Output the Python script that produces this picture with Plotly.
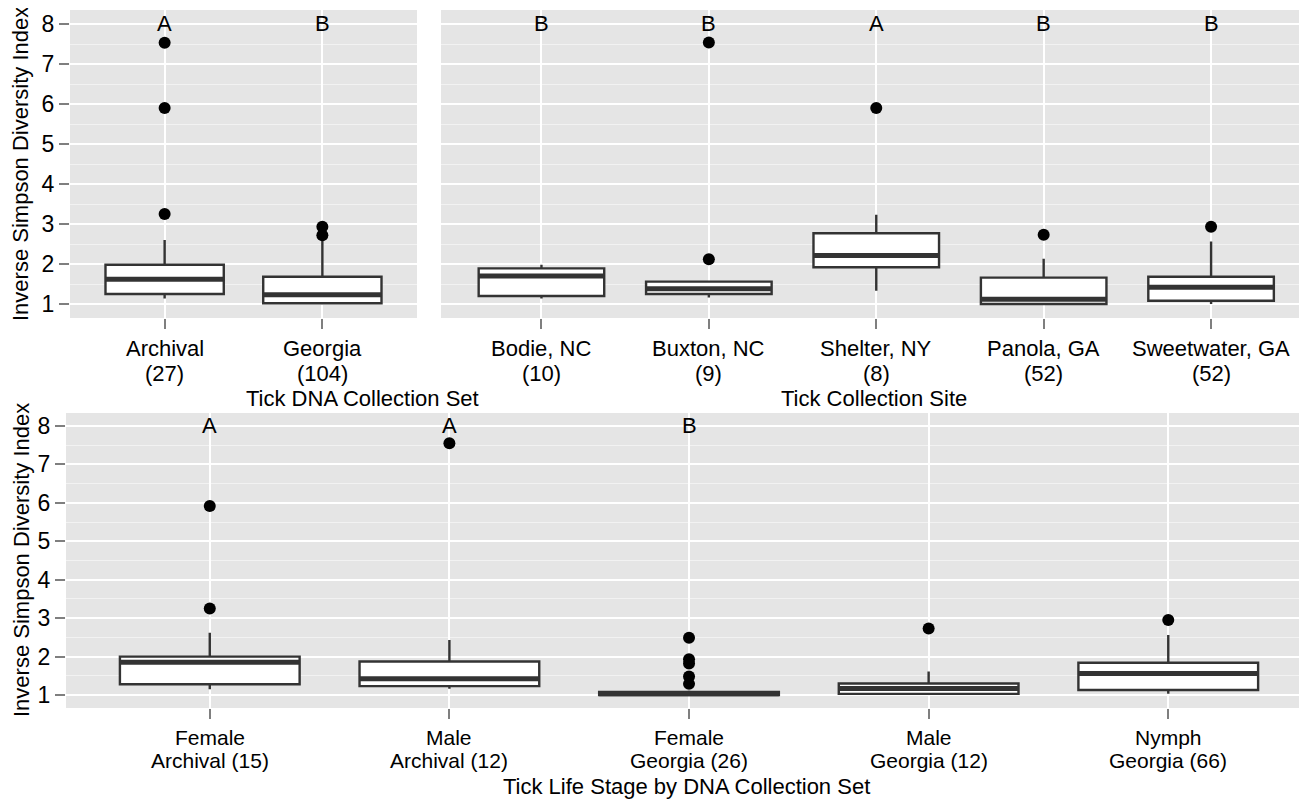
import plotly.graph_objects as go

# ---------------- data ----------------
set_labels = ["Archival<br>(27)", "Georgia<br>(104)"]
set_q1 = [1.25, 1.02]
set_med = [1.62, 1.23]
set_q3 = [1.98, 1.68]
set_lo = [1.14, 1.0]
set_hi = [2.6, 2.62]
set_out_x = [0, 0, 0, 1, 1]
set_out_y = [7.53, 5.90, 3.25, 2.93, 2.72]
set_letters = ["A", "B"]

site_labels = ["Bodie, NC<br>(10)", "Buxton, NC<br>(9)", "Shelter, NY<br>(8)",
               "Panola, GA<br>(52)", "Sweetwater, GA<br>(52)"]
site_q1 = [1.20, 1.25, 1.92, 1.00, 1.08]
site_med = [1.70, 1.38, 2.21, 1.12, 1.42]
site_q3 = [1.89, 1.56, 2.77, 1.66, 1.68]
site_lo = [1.14, 1.16, 1.33, 0.99, 1.00]
site_hi = [1.98, 1.58, 3.23, 2.13, 2.56]
site_out_x = [1, 1, 2, 3, 4]
site_out_y = [7.54, 2.12, 5.90, 2.73, 2.93]
site_letters = ["B", "B", "A", "B", "B"]

stage_labels = ["Female<br>Archival (15)", "Male<br>Archival (12)", "Female<br>Georgia (26)",
                "Male<br>Georgia (12)", "Nymph<br>Georgia (66)"]
stage_q1 = [1.28, 1.23, 1.00, 1.03, 1.13]
stage_med = [1.85, 1.42, 1.03, 1.17, 1.56]
stage_q3 = [2.00, 1.87, 1.08, 1.30, 1.84]
stage_lo = [1.15, 1.16, 1.00, 1.00, 1.03]
stage_hi = [2.62, 2.43, 1.12, 1.61, 2.56]
stage_out_x = [0, 0, 1, 2, 2, 2, 2, 2, 3, 4]
stage_out_y = [5.92, 3.25, 7.55, 2.49, 1.93, 1.82, 1.48, 1.29, 2.73, 2.95]
stage_letters = ["A", "A", "B", "", ""]

y_ticks = [1, 2, 3, 4, 5, 6, 7, 8]
y_title = "Inverse Simpson Diversity Index"
x_titles = ["Tick DNA Collection Set", "Tick Collection Site", "Tick Life Stage by DNA Collection Set"]

# ---------------- figure ----------------
# the page body has an 8px default margin; size the figure so it ends at the window edge
OFF = 8
W, H = 1307 - OFF, 799 - OFF
FONT = "Liberation Sans, Arial, sans-serif"
LINE = "#333333"
BOXW = 0.75


def px(xpix):
    return (xpix - OFF) / W


def py(ypix):
    return 1 - (ypix - OFF) / H


fig = go.Figure()

# (xaxis, yaxis, labels, ..., tick font size, label line centres in px)
panels = [
    ("x", "y", set_labels, set_q1, set_med, set_q3, set_lo, set_hi, set_out_x, set_out_y, set_letters, 22, (348, 373)),
    ("x2", "y2", site_labels, site_q1, site_med, site_q3, site_lo, site_hi, site_out_x, site_out_y, site_letters, 22, (348, 373)),
    ("x3", "y3", stage_labels, stage_q1, stage_med, stage_q3, stage_lo, stage_hi, stage_out_x, stage_out_y, stage_letters, 21, (737, 760)),
]

annotations = []
for xa, ya, labels, q1, med, q3, lo, hi, ox, oy, letters, fs, lines_y in panels:
    idx = list(range(len(labels)))
    fig.add_trace(go.Box(
        x=idx, q1=q1, median=med, q3=q3, lowerfence=lo, upperfence=hi,
        width=BOXW, whiskerwidth=0, boxpoints=False,
        fillcolor="white", line=dict(color=LINE, width=2.4),
        xaxis=xa, yaxis=ya, showlegend=False, hoverinfo="skip"))
    mx, my = [], []
    for i, m in zip(idx, med):
        mx += [i - BOXW / 2, i + BOXW / 2, None]
        my += [m, m, None]
    fig.add_trace(go.Scatter(x=mx, y=my, mode="lines",
                             line=dict(color=LINE, width=5),
                             xaxis=xa, yaxis=ya, showlegend=False, hoverinfo="skip"))
    fig.add_trace(go.Scatter(x=ox, y=oy, mode="markers",
                             marker=dict(color="black", size=12),
                             xaxis=xa, yaxis=ya, showlegend=False, hoverinfo="skip"))
    for i, t in zip(idx, letters):
        if t:
            annotations.append(dict(x=i, y=8, xref=xa, yref=ya, text=t, showarrow=False,
                                    font=dict(family=FONT, size=22, color="black"),
                                    yanchor="middle", xanchor="center"))
    # category labels (two lines, tighter spacing than plotly's default line height)
    for i, lab in zip(idx, labels):
        for part, ly in zip(lab.split("<br>"), lines_y):
            annotations.append(dict(x=i, y=py(ly), xref=xa, yref="paper", text=part, showarrow=False,
                                    font=dict(family=FONT, size=fs, color="black"),
                                    yanchor="middle", xanchor="center"))


def xaxis(domain, labels, rng):
    return dict(domain=domain, range=rng, tickvals=list(range(len(labels))), showticklabels=False,
                showgrid=True, gridcolor="white", gridwidth=2, zeroline=False, showline=False,
                ticks="outside", ticklen=10, tickwidth=2, tickcolor="#7F7F7F")


def yaxis(domain, rng, show):
    return dict(domain=domain, range=rng, tickvals=y_ticks,
                showticklabels=show, ticks="outside" if show else "",
                ticklen=10, tickwidth=2, tickcolor="#7F7F7F",
                showgrid=True, gridcolor="white", gridwidth=2, zeroline=False, showline=False,
                minor=dict(tick0=0.5, dtick=1, showgrid=True, gridcolor="#F2F2F2", gridwidth=1, ticks=""),
                tickfont=dict(family=FONT, size=23, color="black"))


top_dom = [py(318), py(10)]
bot_dom = [py(708), py(413)]

fig.update_layout(
    width=W, height=H, margin=dict(l=0, r=0, t=0, b=0),
    paper_bgcolor="white", plot_bgcolor="#E5E5E5",
    font=dict(family=FONT, color="black"),
    xaxis=dict(xaxis([px(70), px(417)], set_labels, [-0.6, 1.6]), anchor="y"),
    yaxis=dict(yaxis(top_dom, [0.65, 8.35], True), anchor="x"),
    xaxis2=dict(xaxis([px(441), 1.0], site_labels, [-0.6, 4.573]), anchor="y2"),
    yaxis2=dict(yaxis(top_dom, [0.65, 8.35], False), anchor="x2"),
    xaxis3=dict(xaxis([px(66), 1.0], stage_labels, [-0.6, 4.579]), anchor="y3"),
    yaxis3=dict(yaxis(bot_dom, [0.662, 8.338], True), anchor="x3"),
)

# axis titles
tf = dict(family=FONT, size=22, color="black")
annotations += [
    dict(x=px((70 + 417) / 2), y=py(399), xref="paper", yref="paper", text=x_titles[0],
         showarrow=False, font=tf, yanchor="middle"),
    dict(x=px((441 + 1307) / 2), y=py(399), xref="paper", yref="paper", text=x_titles[1],
         showarrow=False, font=tf, yanchor="middle"),
    dict(x=px((66 + 1307) / 2), y=py(786), xref="paper", yref="paper", text=x_titles[2],
         showarrow=False, font=tf, yanchor="middle"),
    dict(x=px(21), y=py(164), xref="paper", yref="paper", text=y_title, textangle=-90,
         showarrow=False, font=tf, xanchor="center", yanchor="middle"),
    dict(x=px(21), y=py(560), xref="paper", yref="paper", text=y_title, textangle=-90,
         showarrow=False, font=tf, xanchor="center", yanchor="middle"),
]
fig.update_layout(annotations=annotations)

fig.write_html("out.html")
